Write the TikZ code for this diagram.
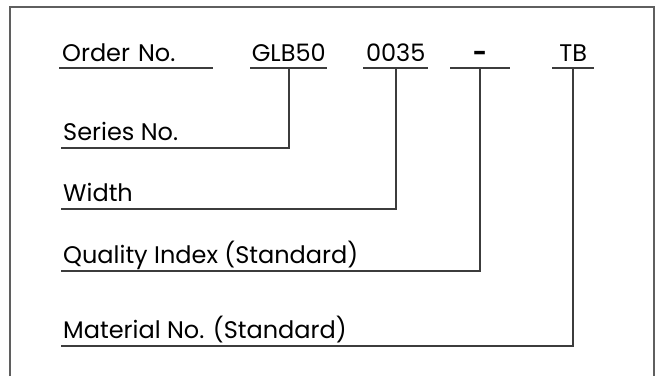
\documentclass[tikz,border=0pt]{standalone}
\usepackage{fontspec}
\setmainfont{Poppins}
\usetikzlibrary{positioning}
\definecolor{rulegray}{RGB}{60, 60, 60}
\definecolor{framegray}{RGB}{95, 95, 95}

\begin{document}
\begin{tikzpicture}[x=1pt, y=-1pt,
                codebox/.style={anchor=south west, inner xsep=0pt,
                    inner ysep=6pt, text depth=0pt, align=center,
                    font=\fontsize{24}{27}\selectfont},
                lbl/.style={anchor=south west, inner xsep=2pt,
                    inner ysep=7pt, text depth=0pt,
                    font=\fontsize{24}{27}\selectfont},
                rule/.style={line width=1.8pt, rulegray},
                frame/.style={line width=1.4pt, framegray}
            ]

                \useasboundingbox (0,0) rectangle (656,376);
                \draw[frame] (10,376) -- (10,7) -- (654,7) -- (654,376);

                % order code
                \node[codebox, minimum width=154pt, align=left,
                      text width=148pt] (order) at (59,68) {Order No.};
                \node[codebox, minimum width=77pt] (series) at (250,68) {GLB50};
                \node[codebox, minimum width=65pt] (width) at (363,68) {0035};
                \node[codebox, minimum width=60pt] (quality) at (450,68) {\textbf{-}};
                \node[codebox, minimum width=42pt] (material) at (552,68) {TB};

                \foreach \n in {order, series, width, quality, material}
                    \draw[rule] (\n.south west) -- (\n.south east);

                % explanations
                \node[lbl] (l1) at (61,148) {Series No.};
                \node[lbl] (l2) at (61,209) {Width};
                \node[lbl] (l3) at (61,271) {Quality Index (Standard)};
                \node[lbl] (l4) at (61,346) {Material No. (Standard)};

                \draw[rule] (series.south) |- (l1.south west);
                \draw[rule] (width.south) |- (l2.south west);
                \draw[rule] (quality.south) |- (l3.south west);
                \draw[rule] (material.south) |- (l4.south west);

            \end{tikzpicture}
\end{document}
